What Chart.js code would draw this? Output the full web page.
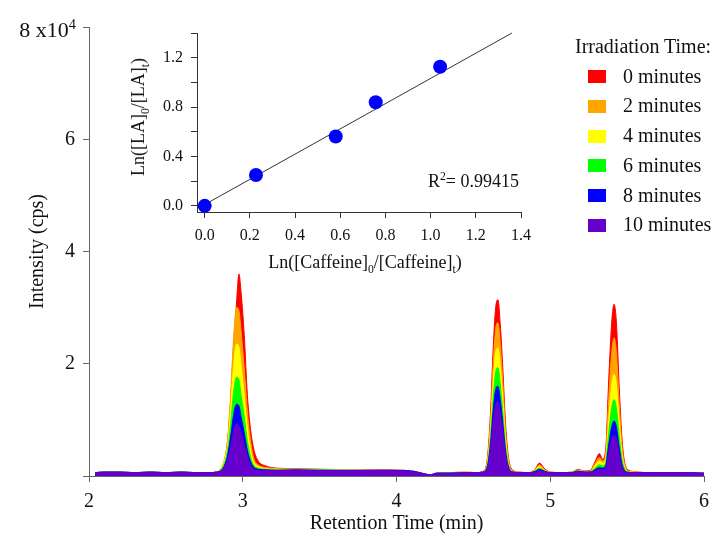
<!DOCTYPE html>
<html>
<head>
<meta charset="utf-8">
<script src="https://cdn.jsdelivr.net/npm/chart.js@4.4.1/dist/chart.umd.min.js"></script>
<style>
  body { margin: 0; background: #fff; }
  #wrap { position: relative; width: 717px; height: 540px; font-family: "Liberation Serif", "Times New Roman", serif; color: #111; }
  #main { position: absolute; left: 0; top: 0; }
  #inset { position: absolute; left: 110px; top: 10px; }
  .txt { position: absolute; white-space: nowrap; line-height: 1; }
  .txt sub, .txt sup { font-size: 65%; line-height: 0; }
  .box { position: absolute; width: 18px; height: 13px; }
</style>
</head>
<body>
<div id="wrap">
  <canvas id="main" width="717" height="540"></canvas>
  <canvas id="inset" width="430" height="268"></canvas>
  <div class="txt" style="right:641px; top:19px; font-size:22px;">8 x10<sup>4</sup></div>
  <div class="txt" style="left:365px; top:253px; font-size:18px; transform:translateX(-50%);">Ln([Caffeine]<sub>0</sub>/[Caffeine]<sub>t</sub>)</div>
  <div class="txt" style="left:138px; top:117px; font-size:18px; transform:translate(-50%,-50%) rotate(-90deg);">Ln([LA]<sub>0</sub>/[LA]<sub>t</sub>)</div>
  <div class="txt" style="left:428px; top:172px; font-size:18px;">R<sup>2</sup>= 0.99415</div>
  <div id="legend"></div>
</div>
<script>
// retention time (min)
let times = [
  2.04, 2.10, 2.20, 2.30, 2.40, 2.50, 2.60, 2.70, 2.78,
  2.83, 2.86, 2.88, 2.90, 2.92, 2.94, 2.96, 2.975, 2.99, 3.01, 3.03, 3.05, 3.07, 3.10, 3.15, 3.22,
  3.35, 3.50, 3.70, 3.90, 4.05, 4.12, 4.18, 4.22, 4.26, 4.35, 4.45, 4.52,
  4.56, 4.59, 4.61, 4.63, 4.645, 4.66, 4.675, 4.69, 4.71, 4.73, 4.76, 4.80,
  4.86, 4.90, 4.93, 4.96, 5.00, 5.08, 5.14, 5.18, 5.22, 5.26, 5.29, 5.32, 5.34,
  5.36, 5.38, 5.40, 5.415, 5.43, 5.45, 5.47, 5.50, 5.55, 5.62, 5.70, 5.80, 5.90, 6.00
];

// intensity in units of 10^4 cps, one array per irradiation time
let int0min = [
  0.06, 0.07, 0.07, 0.06, 0.07, 0.06, 0.07, 0.06, 0.06,
  0.07, 0.12, 0.25, 0.6, 1.3, 2.3, 3.1, 3.6, 3.25, 2.5, 1.45, 0.85, 0.5, 0.27, 0.18, 0.14,
  0.13, 0.12, 0.11, 0.11, 0.1, 0.08, 0.04, 0.02, 0.05, 0.06, 0.07, 0.06,
  0.08, 0.3, 1.05, 2.35, 3.0, 3.14, 2.7, 2.0, 0.9, 0.3, 0.1, 0.07,
  0.06, 0.12, 0.23, 0.14, 0.07, 0.06, 0.07, 0.12, 0.09, 0.1, 0.25, 0.4, 0.3,
  0.45, 1.7, 2.75, 3.06, 2.75, 1.5, 0.55, 0.12, 0.08, 0.06, 0.06, 0.06, 0.06, 0.05
];
let int2min = [
  0.06, 0.07, 0.07, 0.06, 0.07, 0.06, 0.07, 0.06, 0.06,
  0.07, 0.15, 0.3, 0.6, 1.4, 2.45, 3.0, 2.95, 2.55, 1.9, 1.15, 0.65, 0.33, 0.2, 0.15, 0.13,
  0.12, 0.12, 0.11, 0.1, 0.1, 0.08, 0.04, 0.02, 0.05, 0.06, 0.07, 0.06,
  0.08, 0.26, 0.9, 2.05, 2.62, 2.73, 2.35, 1.72, 0.76, 0.25, 0.09, 0.07,
  0.06, 0.11, 0.2, 0.12, 0.07, 0.06, 0.07, 0.11, 0.08, 0.09, 0.22, 0.33, 0.27,
  0.38, 1.36, 2.2, 2.46, 2.2, 1.2, 0.44, 0.1, 0.07, 0.06, 0.06, 0.06, 0.06, 0.05
];
let int4min = [
  0.06, 0.07, 0.07, 0.06, 0.07, 0.06, 0.07, 0.06, 0.06,
  0.07, 0.13, 0.26, 0.52, 1.15, 1.95, 2.35, 2.3, 1.95, 1.42, 0.85, 0.47, 0.26, 0.17, 0.13, 0.12,
  0.12, 0.11, 0.11, 0.1, 0.1, 0.08, 0.04, 0.02, 0.05, 0.06, 0.07, 0.06,
  0.07, 0.22, 0.76, 1.72, 2.2, 2.28, 1.95, 1.42, 0.63, 0.21, 0.08, 0.06,
  0.06, 0.1, 0.17, 0.11, 0.06, 0.06, 0.07, 0.1, 0.08, 0.08, 0.18, 0.27, 0.23,
  0.3, 1.0, 1.63, 1.81, 1.63, 0.89, 0.33, 0.09, 0.07, 0.06, 0.06, 0.06, 0.06, 0.05
];
let int6min = [
  0.06, 0.07, 0.07, 0.06, 0.07, 0.06, 0.07, 0.06, 0.06,
  0.07, 0.12, 0.22, 0.44, 0.9, 1.48, 1.76, 1.72, 1.42, 1.05, 0.62, 0.35, 0.2, 0.14, 0.12, 0.11,
  0.11, 0.11, 0.1, 0.1, 0.1, 0.08, 0.04, 0.02, 0.05, 0.06, 0.06, 0.06,
  0.07, 0.19, 0.64, 1.44, 1.85, 1.93, 1.64, 1.18, 0.52, 0.18, 0.07, 0.06,
  0.06, 0.09, 0.14, 0.1, 0.06, 0.06, 0.07, 0.09, 0.07, 0.08, 0.14, 0.2, 0.18,
  0.24, 0.75, 1.22, 1.36, 1.22, 0.67, 0.25, 0.08, 0.06, 0.06, 0.06, 0.06, 0.06, 0.05
];
let int8min = [
  0.06, 0.07, 0.07, 0.06, 0.07, 0.06, 0.07, 0.06, 0.06,
  0.07, 0.1, 0.18, 0.35, 0.67, 1.08, 1.28, 1.25, 1.04, 0.76, 0.45, 0.26, 0.16, 0.12, 0.11, 0.1,
  0.11, 0.1, 0.1, 0.1, 0.1, 0.08, 0.04, 0.02, 0.05, 0.05, 0.06, 0.06,
  0.07, 0.16, 0.54, 1.2, 1.54, 1.6, 1.36, 0.98, 0.43, 0.15, 0.07, 0.06,
  0.06, 0.08, 0.12, 0.09, 0.06, 0.06, 0.06, 0.09, 0.07, 0.07, 0.11, 0.15, 0.14,
  0.18, 0.55, 0.88, 0.98, 0.88, 0.48, 0.18, 0.07, 0.06, 0.06, 0.06, 0.06, 0.06, 0.05
];
let int10min = [
  0.06, 0.07, 0.07, 0.06, 0.07, 0.06, 0.07, 0.06, 0.06,
  0.07, 0.09, 0.15, 0.28, 0.5, 0.8, 0.93, 0.9, 0.76, 0.56, 0.36, 0.2, 0.13, 0.1, 0.1, 0.1,
  0.1, 0.1, 0.1, 0.1, 0.09, 0.07, 0.04, 0.02, 0.05, 0.05, 0.06, 0.06,
  0.07, 0.13, 0.45, 1.0, 1.28, 1.33, 1.12, 0.8, 0.36, 0.13, 0.07, 0.06,
  0.06, 0.07, 0.1, 0.08, 0.06, 0.06, 0.06, 0.08, 0.07, 0.07, 0.09, 0.12, 0.11,
  0.14, 0.41, 0.66, 0.73, 0.66, 0.36, 0.14, 0.06, 0.06, 0.06, 0.06, 0.06, 0.06, 0.05
];

let seriesLabels = ['0 minutes', '2 minutes', '4 minutes', '6 minutes', '8 minutes', '10 minutes'];
let seriesColors = ['#FF0000', '#FFA500', '#FFFF00', '#00FF00', '#0000FF', '#6600CC'];
let seriesValues = [int0min, int2min, int4min, int6min, int8min, int10min];

// inset: kinetics plot
let caffeineLn = [0.0, 0.227, 0.58, 0.757, 1.042];
let laLn = [0.0, 0.25, 0.562, 0.839, 1.127];
let fitX = [0.0, 1.36];
let fitY = [0.01, 1.40];

let serif = "'Liberation Serif', 'Times New Roman', serif";

let mainChart = new Chart(document.getElementById('main').getContext('2d'), {
    type: 'line',
    data: {
        datasets: seriesValues.map(function (vals, i) {
            return {
                label: seriesLabels[i],
                data: times.map(function (t, j) { return {x: t, y: vals[j]}; }),
                borderColor: seriesColors[i],
                backgroundColor: seriesColors[i],
                borderWidth: 1,
                pointRadius: 0,
                fill: 'origin',
                cubicInterpolationMode: 'monotone',
                order: seriesValues.length - i   // 10 minutes drawn on top
            };
        })
    },
    options: {
        responsive: false,
        animation: false,
        devicePixelRatio: 1,
        layout: { padding: { left: 0, right: 12, top: 27, bottom: 0 } },
        plugins: { legend: { display: false }, tooltip: { enabled: false } },
        scales: {
            x: {
                type: 'linear',
                min: 2,
                max: 6,
                ticks: { stepSize: 1, color: '#111', padding: 8, font: { family: serif, size: 20 } },
                grid: { drawOnChartArea: false, tickLength: 6, color: '#666' },
                border: { color: '#666' },
                title: { display: true, text: 'Retention Time (min)', color: '#111', padding: { top: 0, bottom: 4 }, font: { family: serif, size: 20 } },
                afterFit: function (s) { s.height = 64; }
            },
            y: {
                min: 0,
                max: 8,
                ticks: {
                    stepSize: 2, color: '#111', padding: 8, font: { family: serif, size: 20 },
                    callback: function (v) { return (v === 0 || v === 8) ? '' : v; }
                },
                grid: { drawOnChartArea: false, tickLength: 6, color: '#666' },
                border: { color: '#666' },
                title: { display: true, text: 'Intensity (cps)', color: '#111', padding: { top: 26, bottom: 0 }, font: { family: serif, size: 20 } },
                afterFit: function (s) { s.width = 89; }
            }
        }
    }
});

let insetChart = new Chart(document.getElementById('inset').getContext('2d'), {
    type: 'scatter',
    data: {
        datasets: [{
            label: 'data',
            data: caffeineLn.map(function (x, i) { return {x: x, y: laLn[i]}; }),
            pointRadius: 7,
            pointBackgroundColor: '#0000FF',
            pointBorderWidth: 0,
            clip: false,
            order: 1
        }, {
            type: 'line',
            label: 'fit',
            data: fitX.map(function (x, i) { return {x: x, y: fitY[i]}; }),
            borderColor: '#333',
            borderWidth: 1,
            pointRadius: 0,
            clip: false,
            order: 2
        }]
    },
    options: {
        responsive: false,
        animation: false,
        devicePixelRatio: 1,
        layout: { padding: { left: 0, right: 19, top: 23, bottom: 0 } },
        plugins: { legend: { display: false }, tooltip: { enabled: false } },
        scales: {
            x: {
                type: 'linear',
                min: -0.034,
                max: 1.4,
                ticks: {
                    stepSize: 0.2, includeBounds: false, color: '#111', padding: 8, font: { family: serif, size: 16 },
                    callback: function (v) { return v.toFixed(1); }
                },
                grid: { drawOnChartArea: false, tickLength: 6, color: '#333' },
                border: { color: '#333' },
                afterFit: function (s) { s.height = 66; }
            },
            y: {
                min: -0.05,
                max: 1.4,
                ticks: {
                    stepSize: 0.2, includeBounds: false, color: '#111', padding: 8, font: { family: serif, size: 16 },
                    callback: function (v) { return Math.round(v * 10) % 4 === 0 ? v.toFixed(1) : ''; }
                },
                grid: { drawOnChartArea: false, tickLength: 6, color: '#333' },
                border: { color: '#333' },
                afterFit: function (s) { s.width = 87; }
            }
        }
    }
});

// legend
let legend = document.getElementById('legend');
let html = '<div class="txt" style="left:575px; top:36px; font-size:20px;">Irradiation Time:</div>';
for (let i = 0; i < seriesLabels.length; i++) {
    let cy = 76.7 + i * 29.75;
    html += '<div class="box" style="left:588px; top:' + (cy - 6.5) + 'px; background:' + seriesColors[i] + ';"></div>';
    html += '<div class="txt" style="left:623px; top:' + (cy - 11) + 'px; font-size:20px;">' + seriesLabels[i] + '</div>';
}
legend.innerHTML = html;
</script>
</body>
</html>
